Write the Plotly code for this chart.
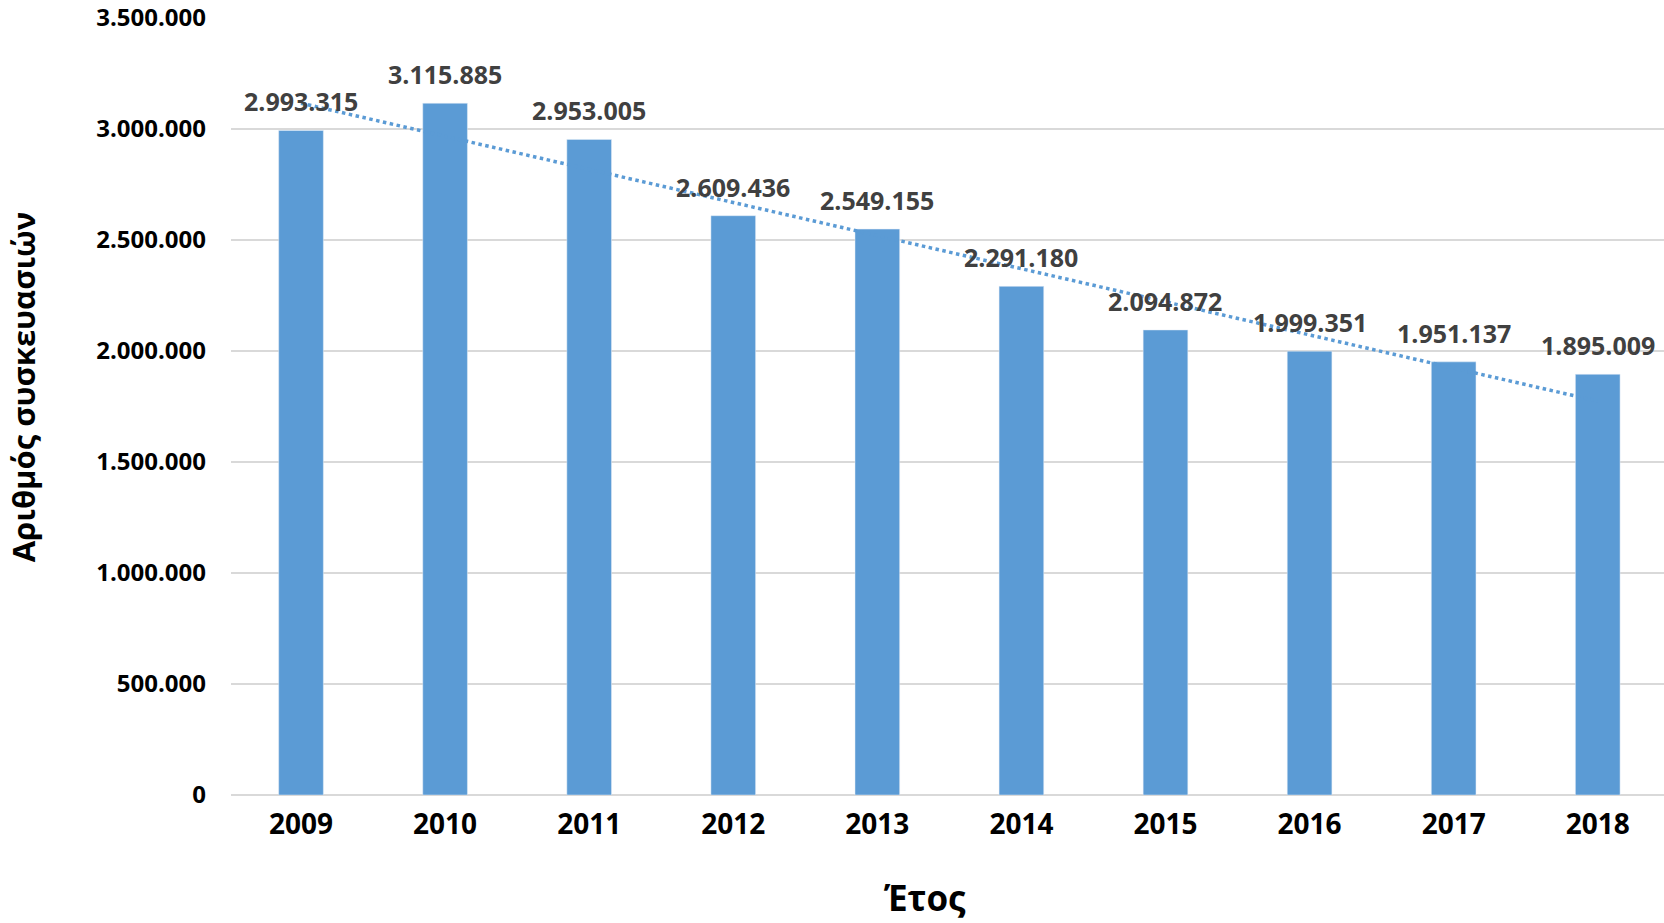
import numpy as np
import plotly.graph_objects as go

years = ["2009", "2010", "2011", "2012", "2013", "2014", "2015", "2016", "2017", "2018"]
values = [2993315, 3115885, 2953005, 2609436, 2549155, 2291180, 2094872, 1999351, 1951137, 1895009]
y_ticks = [0, 500000, 1000000, 1500000, 2000000, 2500000, 3000000, 3500000]
y_tick_labels = ["0", "500.000", "1.000.000", "1.500.000", "2.000.000", "2.500.000", "3.000.000", "3.500.000"]

def fmt(v):
    return f"{v:,}".replace(",", ".")

# linear trendline (as Excel)
idx = np.arange(len(values))
slope, intercept = np.polyfit(idx, values, 1)
trend = slope * idx + intercept

FONT = "Open Sans"
BLUE = "#5B9BD5"

fig = go.Figure()
fig.add_trace(go.Bar(x=years, y=values, marker_color=BLUE, width=0.31, showlegend=False, hoverinfo="skip"))
fig.add_trace(go.Scatter(x=years, y=trend, mode="lines", line=dict(color=BLUE, width=3.5, dash="dot"),
                         showlegend=False, hoverinfo="skip"))

for i, v in enumerate(values):
    fig.add_annotation(x=i, y=v, xref="x", yref="y", text=f"<b>{fmt(v)}</b>", showarrow=False,
                       yanchor="bottom", yshift=10,
                       font=dict(family=FONT, size=25, color="#404040"))

fig.add_annotation(xref="paper", yref="paper", x=-0.145, y=0.525, text="<b>Αριθμός συσκευασιών</b>",
                   textangle=-90, showarrow=False, xanchor="center", yanchor="middle",
                   font=dict(family=FONT, size=31, color="#000000"))
fig.add_annotation(xref="paper", yref="paper", x=0.484, y=-0.132, text="<b>Έτος</b>",
                   showarrow=False, xanchor="center", yanchor="middle",
                   font=dict(family=FONT, size=35, color="#000000"))

fig.update_layout(
    width=1664, height=923,
    margin=dict(l=231, r=0, t=18, b=128),
    plot_bgcolor="white", paper_bgcolor="white",
)
fig.update_xaxes(type="category", range=[-0.486, 9.46], showgrid=False, showline=False, ticks="",
                 tickfont=dict(family=FONT, size=28, color="#000000"), ticklabelstandoff=10,
                 tickprefix="<b>", ticksuffix="</b>")
fig.update_yaxes(range=[0, 3500000], tickvals=y_ticks, ticktext=[f"<b>{t}</b>" for t in y_tick_labels],
                 showgrid=True, gridcolor="#D9D9D9", gridwidth=1.5, zeroline=True, zerolinecolor="#D9D9D9",
                 zerolinewidth=1.5, tickfont=dict(family=FONT, size=24, color="#000000"),
                 ticklabelstandoff=24)

fig.write_html("out.html")
